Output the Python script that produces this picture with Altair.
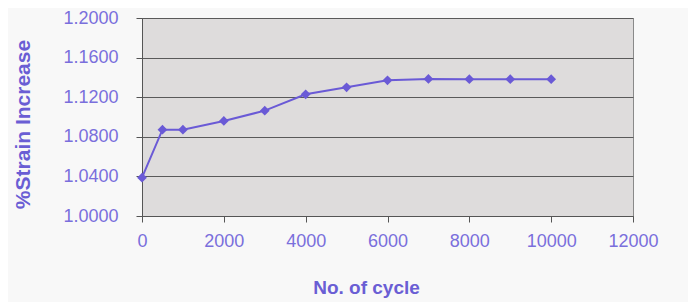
import altair as alt
import pandas as pd

cycles = [0, 500, 1000, 2000, 3000, 4000, 5000, 6000, 7000, 8000, 9000, 10000]
strain = [1.0387, 1.0872, 1.0872, 1.0960, 1.1064, 1.1229, 1.1300, 1.1371, 1.1384, 1.1382, 1.1382, 1.1382]
x_ticks = [0, 2000, 4000, 6000, 8000, 10000, 12000]
y_ticks = [1.00, 1.04, 1.08, 1.12, 1.16, 1.20]

df = pd.DataFrame({"cycle": cycles, "strain": strain})

label_color = "#7a6fdc"
title_color = "#6a5ed4"
line_color = "#6a5ad6"

x = alt.X("cycle:Q",
          scale=alt.Scale(domain=[0, 12000], nice=False, zero=False),
          axis=alt.Axis(values=x_ticks, format="d", title="No. of cycle", grid=False,
                        domainColor="#555555", tickColor="#555555", tickSize=6,
                        labelPadding=10, labelFontSize=18, labelColor=label_color,
                        labelFont="Liberation Sans", titleFont="Liberation Sans",
                        titleFontSize=19, titleFontWeight="bold", titleColor=title_color,
                        titleX=224, titleY=71, titleBaseline="middle", labelFlush=False))
y = alt.Y("strain:Q",
          scale=alt.Scale(domain=[1.0, 1.2], nice=False, zero=False),
          axis=alt.Axis(values=y_ticks, format=".4f", title="%Strain Increase",
                        grid=True, gridColor="#5a5a5a", gridWidth=1,
                        domainColor="#555555", tickColor="#555555", tickSize=6,
                        labelPadding=18, labelFontSize=18, labelColor=label_color,
                        labelFont="Liberation Sans", titleFont="Liberation Sans",
                        titleFontSize=21, titleFontWeight="bold", titleColor=title_color,
                        titleAngle=-90, titleX=-119, titleY=106, titleAlign="center",
                        titleBaseline="middle", labelFlush=False))

line = alt.Chart(df).mark_line(color=line_color, strokeWidth=2).encode(x=x, y=y)
pts = alt.Chart(df).mark_point(shape="diamond", filled=True, size=95, color=line_color, opacity=1).encode(x=x, y=y)

chart = (line + pts).properties(
    width=491, height=198,
    autosize=alt.AutoSizeParams(type="none"),
    padding={"left": 134, "top": 10, "right": 55, "bottom": 86},
    background="#f8f8f8",
).configure_view(fill="#dedcdc", stroke="#8a8a8a", strokeWidth=1)

chart.save("out.html", embed_options={"renderer": "svg", "actions": False})
